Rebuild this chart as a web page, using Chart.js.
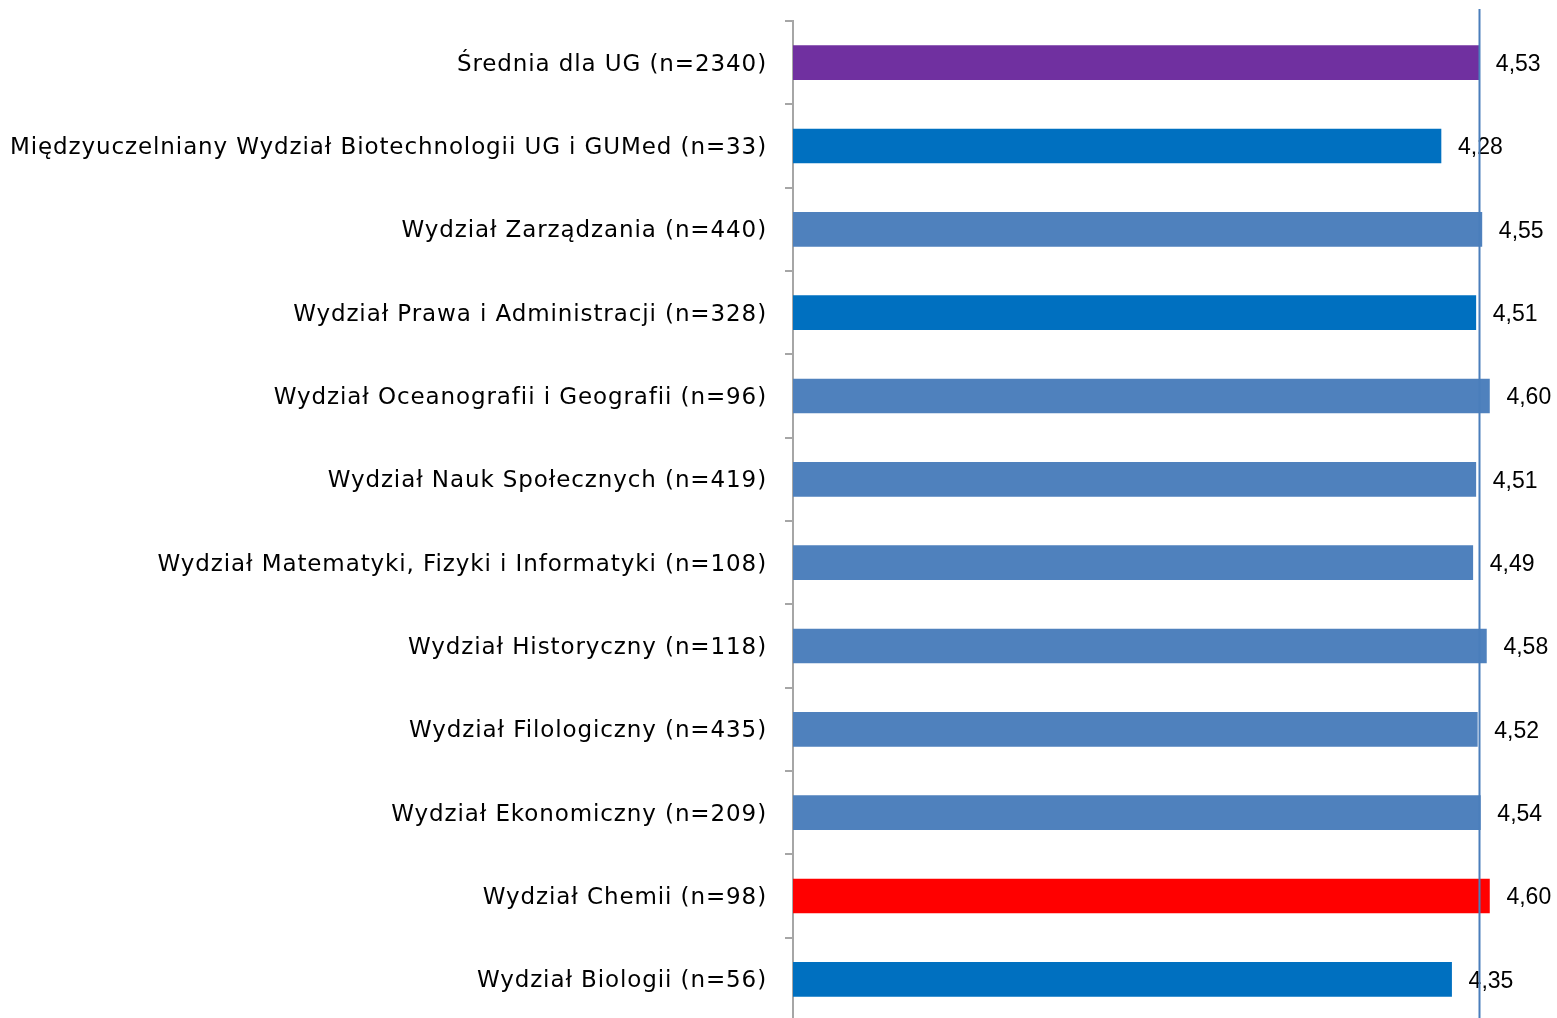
<!DOCTYPE html>
<html>
<head>
<meta charset="utf-8">
<script src="https://cdn.jsdelivr.net/npm/chart.js@4"></script>
<style>
  html, body { margin: 0; padding: 0; background: #fff; overflow: hidden; }
  #wrap { width: 1557px; height: 1030px; }
</style>
</head>
<body>
<div id="wrap"><canvas id="chart" width="1557" height="1030"></canvas></div>
<script>
// faculty averages, top to bottom as in the picture
const categories = [
  "Średnia dla UG (n=2340)",
  "Międzyuczelniany Wydział Biotechnologii UG i GUMed (n=33)",
  "Wydział Zarządzania (n=440)",
  "Wydział Prawa i Administracji (n=328)",
  "Wydział Oceanografii i Geografii (n=96)",
  "Wydział Nauk Społecznych (n=419)",
  "Wydział Matematyki, Fizyki i Informatyki (n=108)",
  "Wydział Historyczny (n=118)",
  "Wydział Filologiczny (n=435)",
  "Wydział Ekonomiczny (n=209)",
  "Wydział Chemii (n=98)",
  "Wydział Biologii (n=56)"
];
const values = [4.53, 4.28, 4.55, 4.51, 4.60, 4.51, 4.49, 4.58, 4.52, 4.54, 4.60, 4.35];
const barColors = [
  "#7030A0", "#0070C0", "#4F81BD", "#0070C0", "#4F81BD", "#4F81BD",
  "#4F81BD", "#4F81BD", "#4F81BD", "#4F81BD", "#FF0000", "#0070C0"
];
const avgLine = 4.53;

// wider tracking for the category labels (the original font is a Tahoma-like one)
const tracking = {
  id: "tracking",
  beforeDraw(chart) {
    chart.ctx.letterSpacing = "0.9px";
  }
};

// value labels to the right of each bar
const valueLabels = {
  id: "valueLabels",
  afterDatasetsDraw(chart) {
    const ctx = chart.ctx;
    const meta = chart.getDatasetMeta(0);
    ctx.save();
    ctx.letterSpacing = "0px";
    ctx.font = "23px 'Liberation Sans', sans-serif";
    ctx.fillStyle = "#000";
    ctx.textBaseline = "middle";
    ctx.textAlign = "left";
    meta.data.forEach((bar, i) => {
      ctx.fillText(values[i].toFixed(2).replace(".", ","), bar.x + 17, bar.y + 2);
    });
    ctx.restore();
  }
};

// vertical reference line at the UG average
const avgMarker = {
  id: "avgMarker",
  afterDraw(chart) {
    const ctx = chart.ctx;
    const x = Math.round(chart.scales.x.getPixelForValue(avgLine)) + 0.5;
    ctx.save();
    ctx.strokeStyle = "#4A7EBB";
    ctx.lineWidth = 2;
    ctx.beginPath();
    ctx.moveTo(x, 9);
    ctx.lineTo(x, chart.height);
    ctx.stroke();
    ctx.restore();
  }
};

new Chart(document.getElementById("chart").getContext("2d"), {
  type: "bar",
  data: {
    labels: categories,
    datasets: [
      {
        data: values,
        backgroundColor: barColors,
        borderWidth: 0,
        barThickness: 34,
      },
    ],
  },
  options: {
    indexAxis: "y",
    responsive: false,
    animation: false,
    layout: { padding: { top: 21, right: 7, bottom: 9, left: 0 } },
    plugins: {
      legend: { display: false },
      tooltip: { enabled: false },
    },
    scales: {
      x: { display: false, min: 0, max: 5 },
      y: {
        afterFit(scale) {
          scale.width = 793;
          scale.paddingTop = 0;
          scale.paddingBottom = 0;
        },
        border: { display: true, color: "#A6A6A6", width: 2 },
        grid: {
          display: true,
          drawOnChartArea: false,
          drawTicks: true,
          tickLength: 8,
          color: "#A6A6A6",
          lineWidth: 2,
          offset: true,
        },
        ticks: {
          color: "#000",
          padding: 18,
          labelOffset: 2,
          font: { family: "'DejaVu Sans', sans-serif", size: 23 },
        },
      },
    },
  },
  plugins: [tracking, valueLabels, avgMarker],
});
</script>
</body>
</html>
